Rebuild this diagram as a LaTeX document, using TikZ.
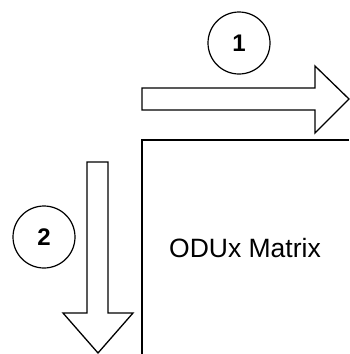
\documentclass[tikz,border=0pt]{standalone}
\usepackage{fontspec}
\setmainfont{Liberation Sans}
\usepackage{tikz}
\usetikzlibrary{positioning}

\begin{document}
\begin{tikzpicture}[
  x=1pt,y=-1pt,
  blockarr/.style={draw,line width=1.3pt,line join=miter},
  numcirc/.style={draw,circle,line width=1.2pt,minimum size=62pt,inner sep=0pt,
    font=\fontsize{24}{28}\selectfont\bfseries},
  lbl/.style={font=\fontsize{26.5}{30}\selectfont}
]
  \useasboundingbox (0,0) rectangle (349,354);
  % step 1: to the right
  \draw[blockarr] (142,88) -- (315,88) -- (315,66) -- (349,99) -- (315,133)
    -- (315,110) -- (142,110) -- cycle;
  \node[numcirc] (one) at (239,43) {1};
  % step 2: downwards
  \draw[blockarr] (87,162) -- (108,162) -- (108,313) -- (133,313) -- (98,353)
    -- (63,313) -- (87,313) -- cycle;
  \node[numcirc] (two) at (44,237) {2};
  % matrix corner
  \draw[line width=1.3pt] (349,140) -- (142,140) -- (142,354);
  \node[lbl] (matrix) at (245,248) {ODUx Matrix};
\end{tikzpicture}
\end{document}
